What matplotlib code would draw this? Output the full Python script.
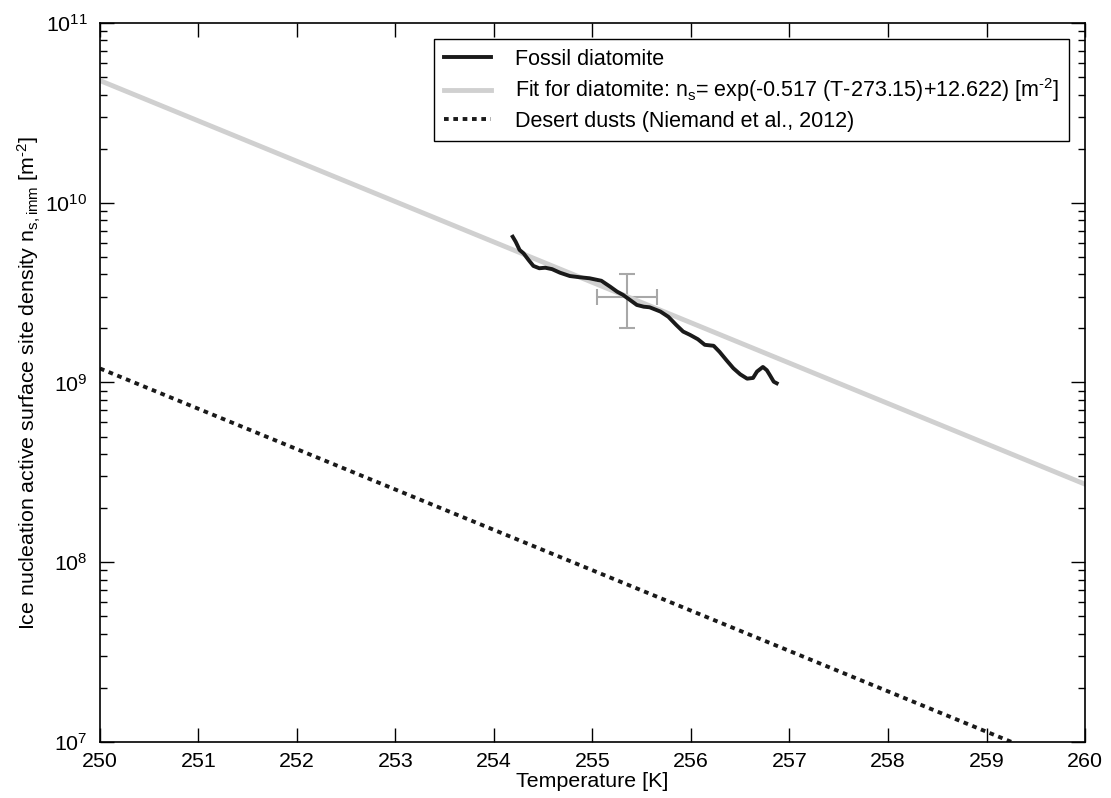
import numpy as np
import matplotlib
matplotlib.use('Agg')
import matplotlib.pyplot as plt
from matplotlib.ticker import LogLocator, NullFormatter

plt.rcParams['font.family'] = ['Liberation Sans', 'DejaVu Sans']
plt.rcParams['mathtext.default'] = 'regular'

# measured freezing curve, fossil diatomite
T_diatomite = [254.19, 254.22, 254.26, 254.30, 254.35, 254.40, 254.46, 254.52, 254.59,
               254.67, 254.77, 254.87, 254.97, 255.09, 255.18, 255.25, 255.31, 255.38,
               255.45, 255.52, 255.58, 255.69, 255.77, 255.85, 255.92, 255.99, 256.07,
               256.14, 256.23, 256.29, 256.36, 256.43, 256.50, 256.57, 256.63, 256.67,
               256.73, 256.77, 256.80, 256.84, 256.87]
ns_diatomite = [6.47e9, 6.07e9, 5.46e9, 5.23e9, 4.81e9, 4.45e9, 4.32e9, 4.35e9, 4.27e9,
                4.08e9, 3.91e9, 3.85e9, 3.80e9, 3.68e9, 3.41e9, 3.20e9, 3.07e9, 2.88e9,
                2.70e9, 2.64e9, 2.62e9, 2.48e9, 2.32e9, 2.09e9, 1.92e9, 1.84e9, 1.74e9,
                1.62e9, 1.60e9, 1.48e9, 1.33e9, 1.20e9, 1.11e9, 1.05e9, 1.06e9, 1.15e9,
                1.22e9, 1.17e9, 1.10e9, 1.01e9, 0.99e9]

# representative uncertainty
err_T, err_ns = 255.35, 3.0e9
err_dT = 0.3
err_dns = 1.0e9

# exponential parameterisations ns = exp(a*(T-273.15)+b)
slope = -0.517
b_fit = 12.622
b_dust = 8.934
T_range = [250, 260]

T_line = np.array(T_range, dtype=float)
ns_fit = np.exp(slope * (T_line - 273.15) + b_fit)
ns_dust = np.exp(slope * (T_line - 273.15) + b_dust)

fig = plt.figure(figsize=(11.11, 7.98), dpi=100)
ax = fig.add_axes([0.090, 0.0702, 0.8866, 0.901])

ax.errorbar(err_T, err_ns, xerr=err_dT, yerr=err_dns, color='#a8a8a8', lw=1.5,
            capsize=6, capthick=1.5, zorder=1)
ax.plot(T_diatomite, ns_diatomite, color='#1a1a1a', lw=2.8, zorder=3,
        label='Fossil diatomite')
ax.plot(T_line, ns_fit, color='#d0d0d0', lw=3.5, zorder=2,
        label='Fit for diatomite: n$_s$= exp(-0.517 (T-273.15)+12.622) [m$^{\u20102}$]')
ax.plot(T_line, ns_dust, color='#1a1a1a', lw=2.8, ls=(0, (1.2, 1.2)), zorder=2,
        label='Desert dusts (Niemand et al., 2012)')

ax.set_yscale('log')
ax.set_xlim(250, 260)
ax.set_ylim(1e7, 1e11)
ax.set_xticks(np.arange(250, 261, 1))
ax.yaxis.set_major_locator(LogLocator(base=10, numticks=10))
ax.yaxis.set_minor_locator(LogLocator(base=10, subs=np.arange(2, 10), numticks=20))
ax.yaxis.set_minor_formatter(NullFormatter())
ax.tick_params(which='both', direction='in', top=True, right=True, labelsize=15.4, width=1)
ax.tick_params(which='major', length=10)
ax.tick_params(which='minor', length=5)
ax.tick_params(axis='x', which='major', pad=7)
ax.tick_params(axis='y', which='major', pad=9)
for s in ax.spines.values():
    s.set_linewidth(1.2)

ax.set_xlabel('Temperature [K]', fontsize=15.4, labelpad=1)
ax.set_ylabel('Ice nucleation active surface site density n$_{s,imm}$ [m$^{\u20102}$]',
              fontsize=15.4, labelpad=2)

leg = ax.legend(loc='upper right', fontsize=15.5, frameon=True, fancybox=False,
                edgecolor='black', framealpha=1, borderaxespad=0.75,
                handlelength=2.2, handletextpad=1.1, labelspacing=0.3,
                borderpad=0.45)
leg.get_frame().set_linewidth(1.0)

fig.savefig('out.png', dpi=100)
